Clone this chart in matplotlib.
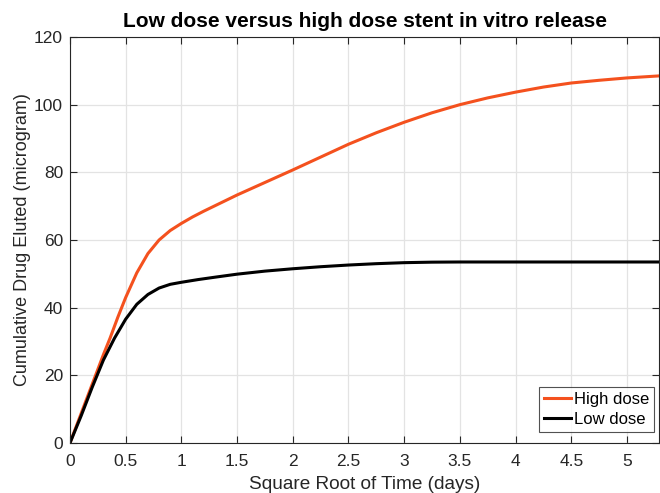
import matplotlib.pyplot as plt

# sqrt(time in days) and cumulative drug eluted (microgram)
x_high = [0, 0.1, 0.2, 0.3, 0.36, 0.43, 0.5, 0.6, 0.7, 0.8, 0.9, 1.0, 1.1, 1.2, 1.35, 1.5,
          1.75, 2.0, 2.25, 2.5, 2.75, 3.0, 3.25, 3.5, 3.75, 4.0, 4.25, 4.5, 4.75, 5.0, 5.29]
y_high = [0, 8.7, 17.4, 26.1, 31, 37.2, 43, 50.3, 56, 60, 62.8, 64.9, 66.8, 68.5, 70.9, 73.3,
          77, 80.7, 84.5, 88.3, 91.7, 94.8, 97.6, 100.0, 102.0, 103.7, 105.2, 106.4, 107.2, 107.9, 108.5]

x_low = [0, 0.1, 0.2, 0.3, 0.4, 0.5, 0.6, 0.7, 0.8, 0.9, 1.0, 1.15, 1.3, 1.5, 1.75, 2.0,
         2.25, 2.5, 2.75, 3.0, 3.25, 3.5, 4.0, 4.5, 5.0, 5.29]
y_low = [0, 8, 16.5, 24.5, 31, 36.6, 41, 43.9, 45.8, 46.9, 47.5, 48.3, 49, 49.9, 50.8, 51.5,
         52.1, 52.6, 53.0, 53.3, 53.45, 53.5, 53.5, 53.5, 53.5, 53.5]

xticks = [0, 0.5, 1, 1.5, 2, 2.5, 3, 3.5, 4, 4.5, 5]
yticks = [0, 20, 40, 60, 80, 100, 120]

plt.rcParams['font.family'] = ['Liberation Sans', 'DejaVu Sans']
plt.rcParams['font.size'] = 13

fig = plt.figure(figsize=(6.6, 4.93), dpi=100)
ax = fig.add_axes([0.106, 0.1014, 0.893, 0.8236])

ax.plot(x_high, y_high, color='#F4511E', lw=2.2, label='High dose')
ax.plot(x_low, y_low, color='black', lw=2.2, label='Low dose')

ax.set_xlim(0, 5.29)
ax.set_ylim(0, 120)
ax.set_xticks(xticks)
ax.set_xticklabels([f'{t:g}' for t in xticks])
ax.set_yticks(yticks)
ax.grid(True, color='#e3e3e3', lw=0.9)
ax.set_axisbelow(True)
ax.tick_params(direction='in', top=True, right=True, colors='#262626', length=5, width=0.8, labelsize=12.5)
ax.tick_params(axis='x', pad=8)
ax.tick_params(axis='y', pad=5)
for s in ax.spines.values():
    s.set_color('#262626')
    s.set_linewidth(0.8)

ax.set_title('Low dose versus high dose stent in vitro release', fontweight='bold', fontsize=15, pad=7)
ax.set_xlabel('Square Root of Time (days)', color='#262626', fontsize=13.7, labelpad=5)
ax.set_ylabel('Cumulative Drug Eluted (microgram)', color='#262626', fontsize=13, labelpad=2)

leg = ax.legend(loc='lower right', bbox_to_anchor=(0.9907, 0.027), fontsize=12,
                handlelength=1.6, handletextpad=0.15, borderpad=0.3, labelspacing=0.3,
                fancybox=False, borderaxespad=0)
leg.get_frame().set_edgecolor('#262626')
leg.get_frame().set_linewidth(0.8)

fig.savefig('out.png', dpi=100)
